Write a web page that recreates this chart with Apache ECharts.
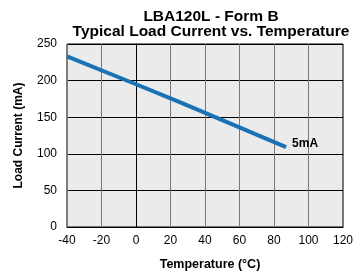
<!DOCTYPE html>
<html>
<head>
<meta charset="utf-8">
<script src="https://cdn.jsdelivr.net/npm/echarts@6/dist/echarts.min.js"></script>
<style>
	html, body { margin: 0; padding: 0; background: #fff; }
	#chart { width: 359px; height: 276px; }
</style>
</head>
<body>
<div id="chart"></div>
<script>
// data
let temps = [-40, 0, 25, 87];
let loadCurrent = [233, 195, 171, 109];
let xTicks = [-40, -20, 0, 20, 40, 60, 80, 100, 120];
let yTicks = [0, 50, 100, 150, 200, 250];
let seriesName = '5mA';

var chartDom = document.getElementById('chart');
var myChart = echarts.init(chartDom);
var font = 'Liberation Sans, Arial, sans-serif';

var option = {
	animation: false,
	title: {
		text: 'LBA120L - Form B\nTypical Load Current vs. Temperature',
		left: 206,
		textAlign: 'center',
		top: 4,
		textStyle: {
			fontFamily: font,
			fontSize: 15.5,
			fontWeight: 'bold',
			color: '#000',
			lineHeight: 15,
		},
	},
	grid: {
		left: 67,
		right: 16,
		top: 44,
		bottom: 49,
		show: true,
		backgroundColor: '#ebebeb',
		borderColor: '#000',
		borderWidth: 1,
	},
	xAxis: {
		type: 'value',
		min: xTicks[0],
		max: xTicks[xTicks.length - 1],
		interval: 20,
		name: 'Temperature (°C)',
		nameLocation: 'middle',
		nameGap: 31,
		nameTextStyle: { fontFamily: font, fontSize: 12.5, fontWeight: 'bold', color: '#000', padding: [0, 0, 0, 10] },
		axisLine: { show: true, lineStyle: { color: '#000' } },
		axisTick: { show: false },
		axisLabel: { fontFamily: font, fontSize: 12, color: '#000', margin: 8 },
		splitLine: { show: true, lineStyle: { color: '#777', width: 1 } },
	},
	yAxis: {
		type: 'value',
		min: yTicks[0],
		max: yTicks[yTicks.length - 1],
		interval: 50,
		name: 'Load Current (mA)',
		nameLocation: 'middle',
		nameGap: 42,
		nameTextStyle: { fontFamily: font, fontSize: 12, fontWeight: 'bold', color: '#000' },
		axisLine: { show: true, lineStyle: { color: '#000' } },
		axisTick: { show: false },
		axisLabel: {
			fontFamily: font,
			fontSize: 12,
			color: '#000',
			margin: 10,
			verticalAlign: 'middle',
			padding: [0, 0, 4, 0],
		},
		splitLine: { show: true, lineStyle: { color: '#000', width: 1 } },
	},
	series: [
		{
			name: seriesName,
			type: 'line',
			data: temps.map((t, i) => [t, loadCurrent[i]]),
			symbol: 'none',
			lineStyle: { color: '#1a72b5', width: 4 },
			endLabel: {
				show: true,
				formatter: seriesName,
				fontFamily: font,
				fontSize: 12,
				fontWeight: 'bold',
				color: '#000',
				offset: [-2, -4],
			},
		},
	],
};
option && myChart.setOption(option);
</script>
</body>
</html>
